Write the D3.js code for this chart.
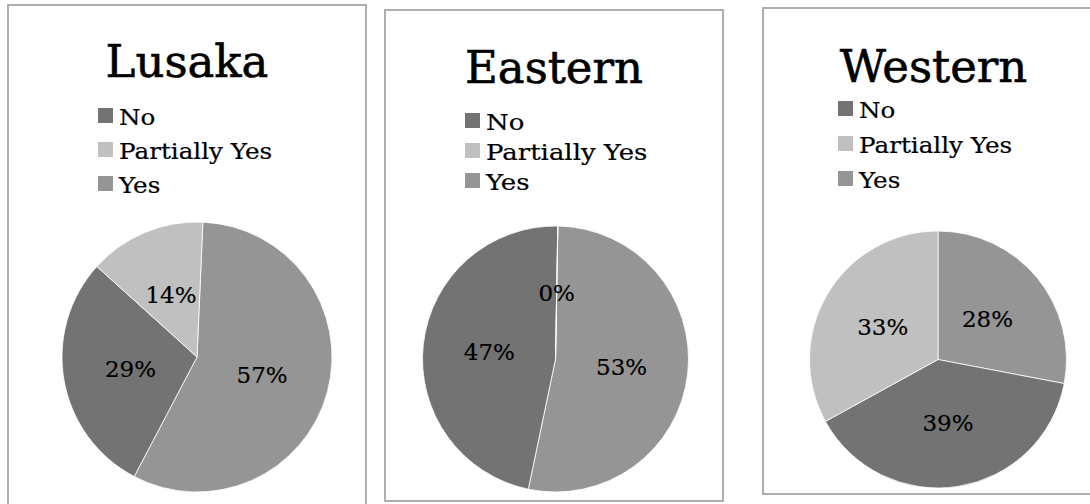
<!DOCTYPE html>
<html>
<head>
<meta charset="utf-8">
<script src="https://cdn.jsdelivr.net/npm/d3@7"></script>
<style>
  html, body { margin: 0; padding: 0; background: #ffffff; }
  svg { display: block; }
  text { font-family: "DejaVu Serif", "Liberation Serif", serif; fill: #000; }
</style>
</head>
<body>
<svg id="chart" width="1090" height="504"></svg>
<script>
// Survey answers per region (percent of respondents)
const regions = ["Lusaka", "Eastern", "Western"];
const categories = ["No", "Partially Yes", "Yes"];
const noValues = [29, 47, 39];
const partiallyYesValues = [14, 0, 33];
const yesValues = [57, 53, 28];

// Slices are laid clockwise from 12 o'clock: Yes, then No, then Partially Yes
const sliceOrder = ["Yes", "No", "Partially Yes"];

const colour = d3.scaleOrdinal()
  .domain(categories)
  .range(["#737373", "#c0c0c0", "#959595"]);

// Frame, pie and legend placement for each region panel
const panels = [
  { x: 8,   y: 5,  w: 358, h: 510, cx: 197,   cy: 357, r: 135, rot: 2.5,
    titleY: 77, legendX: 98,  legendY: 125, legendStep: 34, legendStretch: 1.12 },
  { x: 385, y: 10, w: 338, h: 491, cx: 555.5, cy: 359, r: 133, rot: 1,
    titleY: 83, legendX: 465, legendY: 130, legendStep: 30, legendStretch: 1.18 },
  { x: 763, y: 8,  w: 341, h: 486, cx: 938,   cy: 359.5, r: 128.5, rot: 0,
    titleY: 82, legendX: 838, legendY: 118, legendStep: 35, legendStretch: 1.12 }
];

const svg = d3.select("#chart");
svg.append("rect").attr("width", 1090).attr("height", 504).attr("fill", "#fff");

regions.forEach((region, i) => {
  const p = panels[i];
  const values = {
    "No": noValues[i],
    "Partially Yes": partiallyYesValues[i],
    "Yes": yesValues[i]
  };
  const rows = sliceOrder.map(k => ({ key: k, value: values[k] }));

  const g = svg.append("g");

  g.append("rect")
    .attr("x", p.x).attr("y", p.y)
    .attr("width", p.w).attr("height", p.h)
    .attr("fill", "#fff")
    .attr("stroke", "#a3a3a3")
    .attr("stroke-width", 1.75);

  g.append("text")
    .attr("x", p.x + p.w / 2)
    .attr("y", p.titleY)
    .attr("text-anchor", "middle")
    .attr("font-size", 45)
    .attr("stroke", "#000")
    .attr("stroke-width", 0.6)
    .text(region);

  // Legend
  const legend = g.selectAll("g.legend-item")
    .data(categories)
    .join("g")
    .attr("class", "legend-item")
    .attr("transform", (d, j) => `translate(${p.legendX},${p.legendY + j * p.legendStep})`);

  legend.append("rect")
    .attr("x", 0).attr("y", -17)
    .attr("width", 15).attr("height", 15)
    .attr("fill", d => colour(d));

  legend.append("text")
    .attr("transform", `translate(21,0) scale(${p.legendStretch},1)`)
    .attr("font-size", 22)
    .attr("stroke", "#000")
    .attr("stroke-width", 0.2)
    .text(d => d);

  // Pie
  const rot = p.rot * Math.PI / 180;
  const pie = d3.pie()
    .sort(null)
    .value(d => d.value)
    .startAngle(rot)
    .endAngle(2 * Math.PI + rot);

  const arc = d3.arc().innerRadius(0).outerRadius(p.r);
  const arcs = pie(rows);

  const pg = g.append("g").attr("transform", `translate(${p.cx},${p.cy})`);

  pg.selectAll("path")
    .data(arcs)
    .join("path")
    .attr("d", arc)
    .attr("fill", d => colour(d.data.key))
    .attr("stroke", "#ffffff")
    .attr("stroke-width", 0.8);

  pg.selectAll("text.value")
    .data(arcs)
    .join("text")
    .attr("class", "value")
    .attr("transform", d => `translate(${arc.centroid(d)})`)
    .attr("text-anchor", "middle")
    .attr("dy", "0.36em")
    .attr("font-size", 23)
    .attr("stroke", "#000")
    .attr("stroke-width", 0.2)
    .text(d => d.data.value + "%");
});
</script>
</body>
</html>
